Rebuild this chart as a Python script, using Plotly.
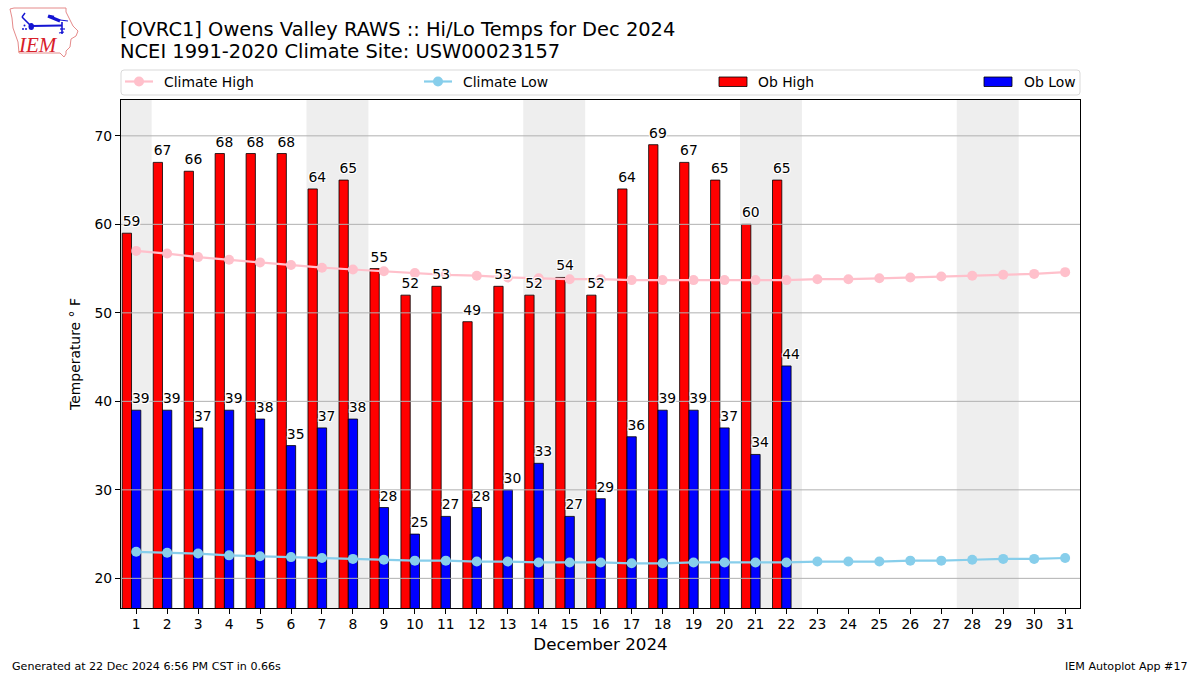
import plotly.graph_objects as go

W, H = 1200, 675
L, R, T, B = 121, 1080, 100, 608

days = list(range(1, 32))
ob_days = list(range(1, 23))
ob_high = [59, 67, 66, 68, 68, 68, 64, 65, 55, 52, 53, 49, 53, 52, 54, 52, 64, 69, 67, 65, 60, 65]
ob_low = [39, 39, 37, 39, 38, 35, 37, 38, 28, 25, 27, 28, 30, 33, 27, 29, 36, 39, 39, 37, 34, 44]
climate_high = [57.0, 56.7, 56.3, 56.0, 55.7, 55.4, 55.1, 54.9, 54.7, 54.5, 54.3, 54.2, 54.0, 53.9, 53.8, 53.8,
                53.7, 53.7, 53.7, 53.7, 53.7, 53.7, 53.8, 53.8, 53.9, 54.0, 54.1, 54.2, 54.3, 54.4, 54.6]
climate_low = [23.0, 22.9, 22.8, 22.6, 22.5, 22.4, 22.3, 22.2, 22.1, 22.0, 22.0, 21.9, 21.9, 21.8, 21.8, 21.8,
               21.7, 21.7, 21.8, 21.8, 21.8, 21.8, 21.9, 21.9, 21.9, 22.0, 22.0, 22.1, 22.2, 22.2, 22.3]
weekend_spans = [(0.5, 1.5), (6.5, 8.5), (13.5, 15.5), (20.5, 22.5), (27.5, 29.5)]
y_ticks = [20, 30, 40, 50, 60, 70]
title_lines = ["[OVRC1] Owens Valley RAWS :: Hi/Lo Temps for Dec 2024", "NCEI 1991-2020 Climate Site: USW00023157"]
FONT = "DejaVu Sans"
BAR_W = 0.3
X_RANGE = [0.51, 31.48]
Y_RANGE = [16.65, 74.05]
HALO = "-1px -1px 0 white, 1px -1px 0 white, -1px 1px 0 white, 1px 1px 0 white, 0 0 2px white"


def px(x):
    return (x - L) / (R - L)


def py(y):
    return (B - y) / (B - T)


def note(x, y, text, size=13.9, anchor="left", color="black", family=FONT):
    return dict(xref="paper", yref="paper", x=px(x), y=py(y), text=text, showarrow=False,
                xanchor=anchor, yanchor="middle", align=anchor, borderpad=0, borderwidth=0,
                font=dict(family=family, size=size, color=color))


fig = go.Figure()
fig.add_bar(x=[d - BAR_W for d in ob_days], y=ob_high, width=BAR_W, name="Ob High",
            marker=dict(color="red", line=dict(color="black", width=0.8)))
fig.add_bar(x=ob_days, y=ob_low, width=BAR_W, name="Ob Low",
            marker=dict(color="blue", line=dict(color="black", width=0.8)))
# gridlines sit above the bars in the reference, so they are a trace rather than axis grid
grid_x, grid_y = [], []
for v in y_ticks:
    grid_x += [X_RANGE[0], X_RANGE[1], None]
    grid_y += [v, v, None]
fig.add_scatter(x=grid_x, y=grid_y, mode="lines", line=dict(color="#b0b0b0", width=1), hoverinfo="skip", name="grid")
fig.add_scatter(x=days, y=climate_high, mode="lines+markers", name="Climate High",
                line=dict(color="pink", width=2.2), marker=dict(color="pink", size=10))
fig.add_scatter(x=days, y=climate_low, mode="lines+markers", name="Climate Low",
                line=dict(color="skyblue", width=2.2), marker=dict(color="skyblue", size=10))
for xs, ys in [([d - BAR_W / 2 for d in ob_days], ob_high), ([d + BAR_W / 2 for d in ob_days], ob_low)]:
    fig.add_scatter(x=xs, y=ys, mode="markers+text", text=[str(v) for v in ys], textposition="top center",
                    marker=dict(size=4, opacity=0), hoverinfo="skip",
                    textfont=dict(family=FONT, size=13.9, color="black", shadow=HALO))

shapes = []
for a, b in weekend_spans:
    shapes.append(dict(type="rect", xref="x", yref="paper", x0=a, x1=b, y0=0, y1=1,
                       fillcolor="#eeeeee", line=dict(width=0), layer="below"))

# legend box
shapes.append(dict(type="path", xref="paper", yref="paper", layer="above",
                   path=f"M{px(124)},{py(70)} L{px(1077)},{py(70)} Q{px(1080)},{py(70)} {px(1080)},{py(73)} "
                        f"L{px(1080)},{py(92)} Q{px(1080)},{py(95)} {px(1077)},{py(95)} L{px(124)},{py(95)} "
                        f"Q{px(121)},{py(95)} {px(121)},{py(92)} L{px(121)},{py(73)} Q{px(121)},{py(70)} {px(124)},{py(70)} Z",
                   line=dict(color="#d9d9d9", width=1), fillcolor="white"))
for x0, col in [(125, "pink"), (424, "skyblue")]:
    shapes.append(dict(type="line", xref="paper", yref="paper", x0=px(x0), x1=px(x0 + 28), y0=py(81.5), y1=py(81.5),
                       line=dict(color=col, width=2.2)))
    shapes.append(dict(type="circle", xref="paper", yref="paper", x0=px(x0 + 9), x1=px(x0 + 19), y0=py(86.5), y1=py(76.5),
                       fillcolor=col, line=dict(color=col, width=0)))
for x0, col in [(719, "red"), (984, "blue")]:
    shapes.append(dict(type="rect", xref="paper", yref="paper", x0=px(x0), x1=px(x0 + 28), y0=py(86.5), y1=py(77),
                       fillcolor=col, line=dict(color="black", width=0.8)))

# IEM logo
outline = [(10, 9), (14, 8), (66, 8), (66, 12), (69, 18), (73, 26), (78, 31), (76, 36), (71, 39), (70, 47), (66, 51),
           (66, 54), (64, 57), (60, 53), (19, 53), (18, 42), (13, 28), (12, 18)]
logo_path = "M" + " L".join(f"{px(x)},{py(y)}" for x, y in outline) + " Z"
shapes.append(dict(type="path", xref="paper", yref="paper", path=logo_path, line=dict(color="#e58a8a", width=1)))
BLUE = "#1414d2"
for (x0, y0, x1, y1, w) in [(31, 26, 62, 25.5, 2.2), (22, 17, 31, 26, 1.6), (22, 17, 25, 13, 1.4), (62, 22, 62, 34, 1.6),
                            (60, 20, 68, 21, 1.2), (60, 29, 65, 29, 1.2), (59, 33, 64, 32, 1.2),
                            (48, 16, 60, 21, 3), (49, 16, 54, 17, 2.5)]:
    shapes.append(dict(type="line", xref="paper", yref="paper", x0=px(x0), x1=px(x1), y0=py(y0), y1=py(y1),
                       line=dict(color=BLUE, width=w)))
shapes.append(dict(type="circle", xref="paper", yref="paper", x0=px(28.5), x1=px(34), y0=py(30), y1=py(23),
                   fillcolor=BLUE, line=dict(width=0)))
for cx, cy in [(23, 29), (26, 29), (24.5, 25.5)]:
    shapes.append(dict(type="circle", xref="paper", yref="paper", x0=px(cx - 1), x1=px(cx + 1), y0=py(cy + 1), y1=py(cy - 1),
                       fillcolor=BLUE, line=dict(width=0)))

annotations = [
    note(120, 29, title_lines[0], 19.44),
    note(120, 51.5, title_lines[1], 19.44),
    note(164, 81.5, "Climate High"),
    note(463, 81.5, "Climate Low"),
    note(758, 81.5, "Ob High"),
    note(1024, 81.5, "Ob Low"),
    note(12, 666, "Generated at 22 Dec 2024 6:56 PM CST in 0.66s", 11.1),
    note(1188, 666, "IEM Autoplot App #17", 11.1, anchor="right"),
    dict(xref="paper", yref="paper", x=px(38), y=py(45), text="<i>IEM</i>", showarrow=False,
         font=dict(family="Liberation Serif", size=21, color="#d8202a"), xanchor="center", yanchor="middle"),
]

fig.update_layout(
    width=W, height=H, autosize=False, showlegend=False, barmode="overlay",
    margin=dict(l=L, r=W - R, t=T, b=H - B, autoexpand=False),
    paper_bgcolor="white", plot_bgcolor="rgba(0,0,0,0)",
    font=dict(family=FONT, size=13.9, color="black"),
    shapes=shapes, annotations=annotations,
)
fig.update_xaxes(range=X_RANGE, tickmode="array", tickvals=days, ticktext=[str(d) for d in days],
                 ticks="outside", ticklen=5, tickwidth=1.1, tickcolor="black", showgrid=False, zeroline=False,
                 showline=True, linecolor="black", linewidth=1.1, mirror=True, ticklabelstandoff=-2,
                 title=dict(text="December 2024", font=dict(size=16.7), standoff=7),
                 tickfont=dict(size=13.9), tickangle=0)
fig.update_yaxes(range=Y_RANGE, tickmode="array", tickvals=y_ticks, ticks="outside", ticklen=5, tickwidth=1.1,
                 tickcolor="black", showgrid=False, zeroline=False,
                 showline=True, linecolor="black", linewidth=1.1, mirror=True,
                 title=dict(text="Temperature ° F", font=dict(size=13.9), standoff=10),
                 tickfont=dict(size=13.9))
fig.write_html("out.html", config=dict(displayModeBar=False), post_script="document.body.style.margin='0';")
